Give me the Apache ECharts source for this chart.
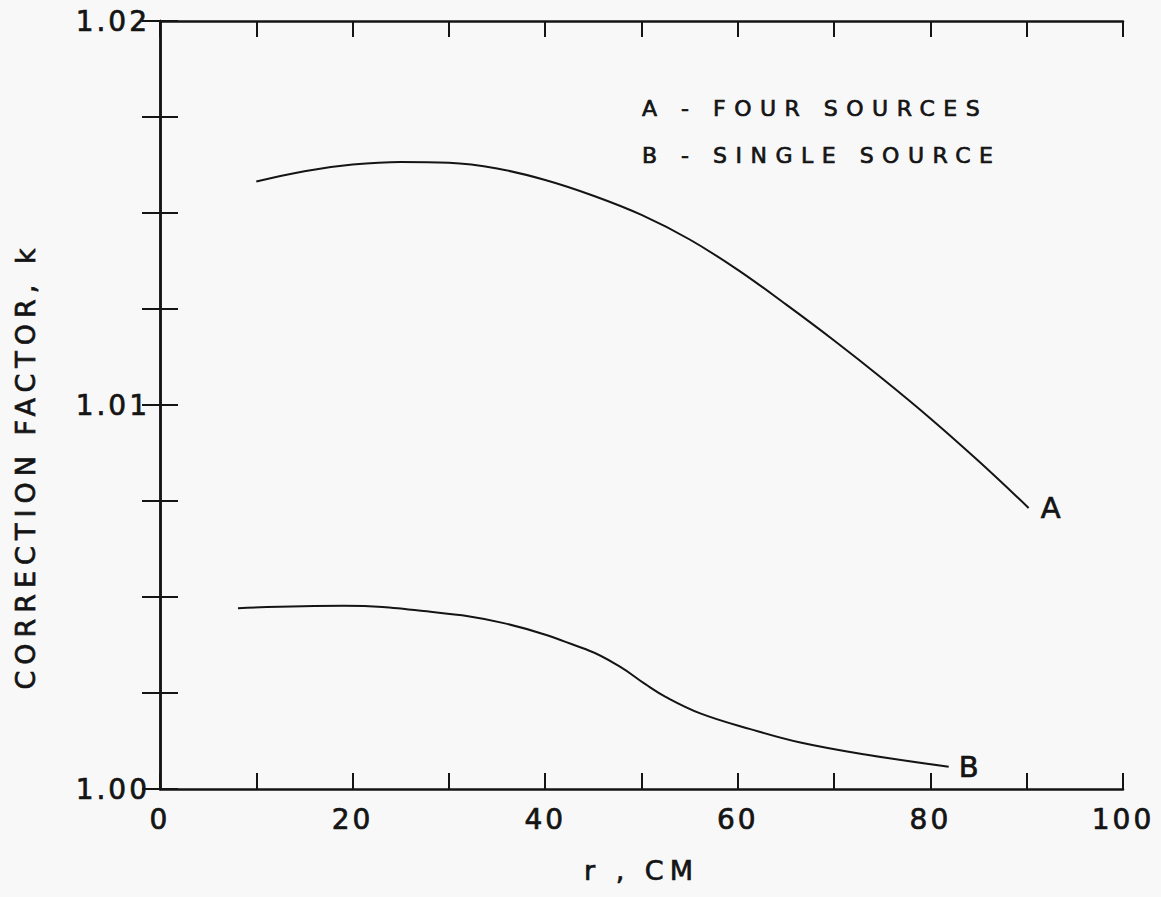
<!DOCTYPE html>
<html>
<head>
<meta charset="utf-8">
<script src="https://cdn.jsdelivr.net/npm/echarts@6/dist/echarts.min.js"></script>
<style>
html,body{margin:0;padding:0;background:#f8f8f8;}
#chart{width:1161px;height:897px;}
#chart text[style*="22px"], #chart text[font-size="22px"]{letter-spacing:8.5px;}
#chart text[style*="27px"], #chart text[font-size="27px"]{letter-spacing:6px;}
#chart text[style*="28px"], #chart text[font-size="28px"]{letter-spacing:3px;}
</style>
</head>
<body>
<div id="chart"></div>
<script>
// Curve A: four sources (r in cm, correction factor k)
const rA = [10, 15, 20, 25, 30, 35, 40, 45, 50, 55, 60, 65, 70, 75, 80, 85, 90.2];
const kA = [1.01582, 1.01609, 1.01626, 1.01633, 1.01631, 1.01616, 1.01586, 1.01545, 1.01495, 1.01431, 1.01352, 1.01262, 1.01168, 1.01069, 1.00965, 1.00854, 1.00732];
// Curve B: single source
const rB = [8.1, 19.1, 27.1, 35.7, 44.4, 47.8, 50.4, 52.5, 56.1, 61.3, 66.5, 73.4, 81.9];
const kB = [1.00471, 1.00477, 1.00464, 1.00432, 1.00362, 1.00318, 1.00273, 1.00240, 1.00197, 1.00156, 1.00121, 1.00089, 1.00058];
const legendLines = ['A - FOUR SOURCES', 'B - SINGLE SOURCE'];
const curveNames = ['A', 'B'];
const xName = 'r , CM';
const yName = 'CORRECTION FACTOR, k';

const ink = '#141414';
const FONT = 'DejaVu Sans';
const BOLDEN = 0.7;
const toPairs = (xs, ys) => xs.map((x, i) => [x, ys[i]]);

const chart = echarts.init(document.getElementById('chart'), null, {renderer: 'svg'});
const axisLineStyle = {color: ink, width: 2.5};
const tickStyle = {color: ink, width: 2};
chart.setOption({
  animation: false,
  backgroundColor: '#f8f8f8',
  grid: {left: 160, top: 21, right: 38, bottom: 108},
  xAxis: [{
    type: 'value', min: 0, max: 100, interval: 10, position: 'bottom',
    axisLine: {show: true, lineStyle: axisLineStyle},
    axisTick: {show: true, inside: true, length: 16, lineStyle: tickStyle},
    splitLine: {show: false},
    axisLabel: {
      margin: 16, color: ink, fontFamily: FONT, fontSize: 28,
      textBorderColor: ink, textBorderWidth: BOLDEN,
      formatter: v => (Math.round(v) % 20 === 0 ? String(Math.round(v)) : '')
    },
    name: xName, nameLocation: 'middle', nameGap: 68,
    nameTextStyle: {color: ink, fontFamily: FONT, fontSize: 27, textBorderColor: ink, textBorderWidth: BOLDEN}
  }, {
    type: 'value', min: 0, max: 100, interval: 10, position: 'top',
    axisLine: {show: true, lineStyle: axisLineStyle},
    axisTick: {show: true, inside: true, length: 16, lineStyle: tickStyle},
    splitLine: {show: false}, axisLabel: {show: false}
  }],
  yAxis: [{
    type: 'value', min: 1.0, max: 1.02, interval: 0.0025, position: 'left',
    axisLine: {show: true, lineStyle: axisLineStyle},
    axisTick: {show: true, inside: true, length: 18, lineStyle: tickStyle},
    splitLine: {show: false},
    axisLabel: {
      margin: 10, color: ink, fontFamily: FONT, fontSize: 28,
      textBorderColor: ink, textBorderWidth: BOLDEN,
      formatter: v => (Math.abs(v * 100 - Math.round(v * 100)) < 1e-6 ? v.toFixed(2) : '')
    }
  }, {
    type: 'value', min: 1.0, max: 1.02, interval: 0.0025, position: 'right',
    axisLine: {show: true, lineStyle: axisLineStyle},
    axisTick: {show: true, inside: true, length: 18, lineStyle: tickStyle},
    splitLine: {show: false}, axisLabel: {show: false}
  }],
  graphic: [
    {type: 'text', x: 642, y: 108, style: {text: legendLines[0], fill: ink, stroke: ink, lineWidth: BOLDEN, font: '22px ' + FONT, textAlign: 'left', textVerticalAlign: 'middle'}},
    {type: 'text', x: 642, y: 155, style: {text: legendLines[1], fill: ink, stroke: ink, lineWidth: BOLDEN, font: '22px ' + FONT, textAlign: 'left', textVerticalAlign: 'middle'}},
    {type: 'text', x: 25, y: 466, rotation: Math.PI / 2, style: {text: yName, fill: ink, stroke: ink, lineWidth: BOLDEN, font: '27px ' + FONT, textAlign: 'center', textVerticalAlign: 'middle'}}
  ],
  series: [{
    type: 'line', name: curveNames[0], data: toPairs(rA, kA), smooth: 0.4,
    showSymbol: false, lineStyle: {color: ink, width: 2},
    endLabel: {show: true, formatter: curveNames[0], color: ink, fontFamily: FONT, fontSize: 29, distance: 12, textBorderColor: ink, textBorderWidth: BOLDEN}
  }, {
    type: 'line', name: curveNames[1], data: toPairs(rB, kB), smooth: 0.4,
    showSymbol: false, lineStyle: {color: ink, width: 2},
    endLabel: {show: true, formatter: curveNames[1], color: ink, fontFamily: FONT, fontSize: 29, distance: 10, textBorderColor: ink, textBorderWidth: BOLDEN}
  }]
});
</script>
</body>
</html>
